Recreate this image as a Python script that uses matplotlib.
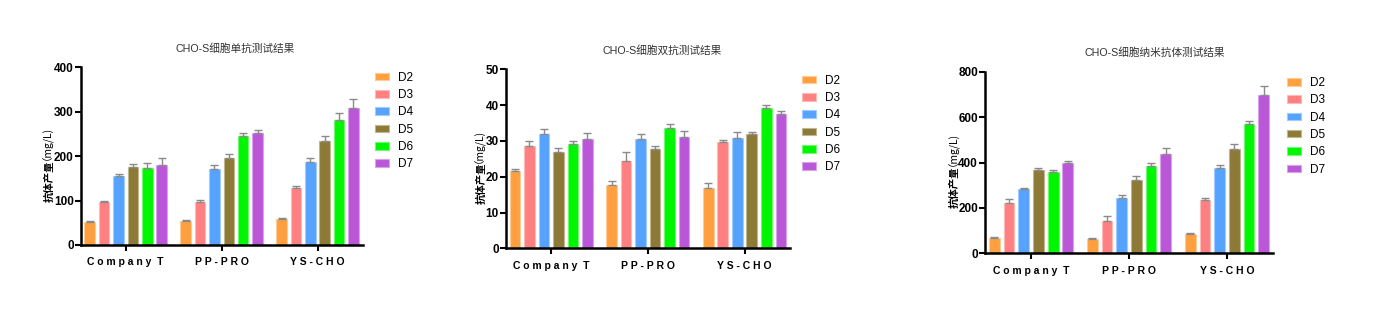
import matplotlib
matplotlib.use('Agg')
import matplotlib.pyplot as plt
import matplotlib.colors as mcolors
import matplotlib.transforms as mtransforms
import numpy as np

plt.rcParams['font.family'] = ['Liberation Sans', 'Noto Sans CJK SC']
plt.rcParams['axes.linewidth'] = 1.8

groups = ['C o m p a n y  T', 'P P - P R O', 'Y S - C H O']
days = ['D2', 'D3', 'D4', 'D5', 'D6', 'D7']
colors = ['#FFA040', '#FF8080', '#55A2FF', '#8C7A36', '#00F500', '#B957D8']

titles = ['CHO-S细胞单抗测试结果', 'CHO-S细胞双抗测试结果', 'CHO-S细胞纳米抗体测试结果']

# monoclonal antibody, rows = days, cols = groups
mab_mean = [[52, 54, 58], [96, 96, 128], [155, 172, 187],
            [175, 196, 235], [173, 246, 282], [179, 252, 309]]
mab_err = [[3, 2, 2], [4, 5, 4], [5, 9, 8],
           [8, 8, 10], [12, 5, 16], [16, 7, 19]]

# bispecific antibody
bsab_mean = [[21.5, 17.6, 16.8], [28.6, 24.5, 29.6], [31.8, 30.6, 30.8],
             [26.8, 27.8, 31.8], [29.0, 33.5, 39.3], [30.6, 31.0, 37.4]]
bsab_err = [[0.7, 1.3, 1.5], [1.4, 2.3, 0.6], [1.6, 1.3, 1.8],
            [1.2, 0.9, 0.7], [1.1, 1.2, 0.6], [1.6, 1.9, 1.0]]

# nanobody
nb_mean = [[67, 63, 85], [220, 144, 235], [282, 244, 374],
           [367, 323, 458], [357, 385, 568], [396, 439, 696]]
nb_err = [[6, 6, 3], [20, 21, 10], [6, 11, 17],
          [10, 18, 23], [10, 14, 17], [12, 23, 41]]

ylims = [(0, 400), (0, 50), (0, 800)]
yticks = [[0, 100, 200, 300, 400], [0, 10, 20, 30, 40, 50], [0, 200, 400, 600, 800]]

# layout (figure fractions)
axes_pos = [[0.0576, 0.2097, 0.2014, 0.5732],
            [0.3612, 0.1990, 0.2031, 0.5774],
            [0.7036, 0.1829, 0.2057, 0.5858]]
legend_pos = [(0.2647, 0.784), (0.5697, 0.774), (0.916, 0.767)]
title_pos = [(0.168, 0.842), (0.473, 0.836), (0.825, 0.832)]
ylabel_x = [0.0350, 0.3436, 0.6821]      # chinese part
unit_x = [0.0300, 0.3386, 0.6771]        # unit part (glyph offset differs)
ylabel_break = 0.478

fig = plt.figure(figsize=(14, 3.1), dpi=100)

x = np.arange(len(groups))
width = 0.11
step = 0.15

for k, (means, errs) in enumerate([(mab_mean, mab_err), (bsab_mean, bsab_err), (nb_mean, nb_err)]):
    ax = fig.add_axes(axes_pos[k])
    for i, day in enumerate(days):
        light = tuple(0.55 * c + 0.45 for c in mcolors.to_rgb(colors[i]))
        pos = x + (i - 2.5) * step
        ax.bar(pos, means[i], width, color=colors[i], edgecolor=light,
               linewidth=0.8, label=day,
               yerr=[np.zeros(len(groups)), errs[i]],
               error_kw=dict(ecolor='#8a8a8a', elinewidth=1.0, capsize=2.8, capthick=1.0))

    ax.set_xlim(-0.47, 2.47)
    ax.set_ylim(*ylims[k])
    ax.set_yticks(yticks[k])
    ax.set_xticks(x)
    ax.set_xticklabels(groups, fontsize=7.5, fontweight='bold')
    shift = mtransforms.ScaledTranslation(9 / 100, 0, fig.dpi_scale_trans)
    for lab in ax.get_xticklabels():
        lab.set_transform(lab.get_transform() + shift)
    for lab in ax.get_yticklabels():
        lab.set_fontweight('bold')
        lab.set_fontsize(8.5)
    ax.tick_params(axis='y', length=4, width=1.5, pad=1)
    ax.tick_params(axis='x', length=4, width=1.5, pad=5)
    ax.spines['top'].set_visible(False)
    ax.spines['right'].set_visible(False)

    # y label: bold chinese part + regular unit part
    trans = mtransforms.blended_transform_factory(fig.transFigure, ax.transAxes)
    ax.text(ylabel_x[k], ylabel_break, '抗体产量', transform=trans, rotation=90,
            rotation_mode='anchor', ha='right', va='center',
            fontsize=7.5, fontweight='bold', family='Noto Sans CJK SC')
    ax.text(unit_x[k], ylabel_break, '（mg/L)', transform=trans, rotation=90,
            rotation_mode='anchor', ha='left', va='center',
            fontsize=7.5, family='Noto Sans CJK SC')

    fig.text(title_pos[k][0], title_pos[k][1], titles[k], ha='center', va='center',
             fontsize=7.7, color='#333333')

    fig.legend(*ax.get_legend_handles_labels(), loc='upper left',
               bbox_to_anchor=legend_pos[k], frameon=False, fontsize=8.5,
               handlelength=1.2, handleheight=0.6, labelspacing=0.45,
               handletextpad=0.7, borderaxespad=0)

fig.savefig('out.png', dpi=100)
